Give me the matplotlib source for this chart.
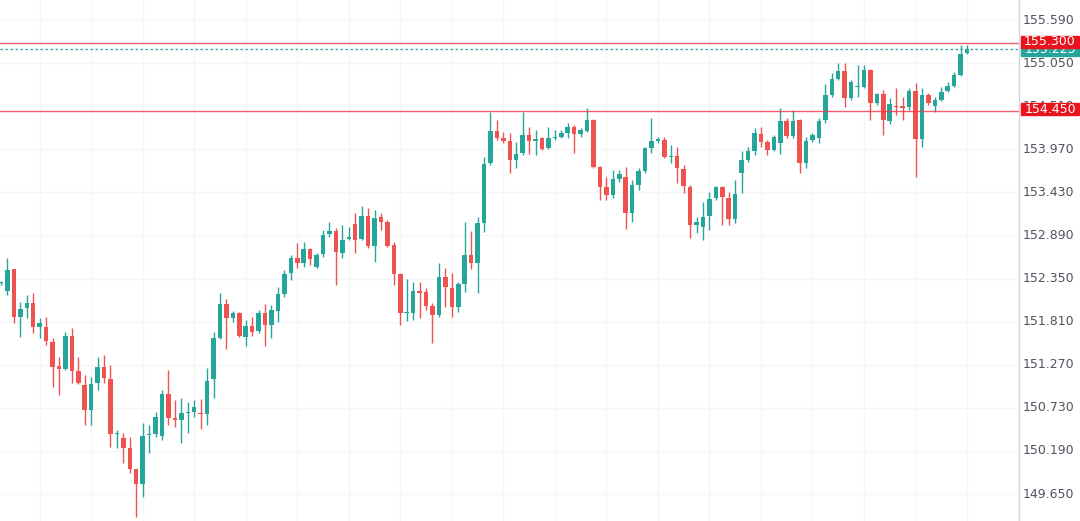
import matplotlib
matplotlib.use("Agg")
import matplotlib.pyplot as plt
from matplotlib.patches import Rectangle
from matplotlib.transforms import blended_transform_factory

opens = [152.29, 152.19, 152.47, 151.87, 151.98, 152.04, 151.74, 151.74, 151.55, 151.25,
         151.22, 151.63, 151.19, 151.02, 150.70, 151.04, 151.24, 151.09, 150.40, 150.35,
         150.23, 149.96, 149.78, 150.39, 150.40, 150.38, 150.90, 150.60, 150.58, 150.67,
         150.68, 150.67, 150.65, 151.09, 151.61, 152.03, 151.86, 151.92, 151.62, 151.76,
         151.69, 151.92, 151.77, 151.94, 152.16, 152.42, 152.61, 152.55, 152.72, 152.49,
         152.66, 152.91, 152.95, 152.67, 152.85, 153.03, 152.85, 153.13, 152.76, 153.12,
         153.06, 152.77, 152.41, 151.92, 151.92, 152.19, 152.18, 152.01, 151.89, 152.37,
         152.23, 151.99, 152.28, 152.65, 152.55, 153.05, 153.80, 154.20, 154.11, 154.07,
         153.84, 153.92, 154.15, 154.07, 154.11, 153.99, 154.11, 154.12, 154.17, 154.25,
         154.16, 154.20, 154.34, 153.75, 153.50, 153.40, 153.60, 153.62, 153.17, 153.52,
         153.70, 153.99, 154.08, 154.09, 153.87, 153.88, 153.72, 153.50, 153.02, 153.00,
         153.13, 153.36, 153.50, 153.36, 153.10, 153.67, 153.84, 153.95, 154.16, 154.06,
         153.96, 154.05, 154.32, 154.14, 154.34, 153.80, 154.09, 154.11, 154.34, 154.65,
         154.85, 154.95, 154.61, 154.75, 154.75, 154.96, 154.55, 154.66, 154.32, 154.51,
         154.51, 154.50, 154.70, 154.10, 154.65, 154.51, 154.59, 154.70, 154.76, 154.90,
         155.18]
highs = [152.32, 152.61, 152.47, 152.06, 152.14, 152.17, 151.86, 151.87, 151.61, 151.37,
         151.68, 151.73, 151.37, 151.14, 151.12, 151.37, 151.39, 151.27, 150.45, 150.41,
         150.36, 149.96, 150.54, 150.52, 150.68, 150.95, 151.20, 150.83, 150.85, 150.80,
         150.83, 150.84, 151.23, 151.68, 152.17, 152.09, 151.94, 151.93, 151.83, 151.87,
         151.96, 152.03, 152.02, 152.24, 152.46, 152.65, 152.80, 152.81, 152.73, 152.67,
         152.96, 153.06, 152.98, 153.02, 153.00, 153.17, 153.26, 153.23, 153.21, 153.17,
         153.08, 152.81, 152.42, 152.34, 152.31, 152.31, 152.23, 152.04, 152.55, 152.48,
         152.42, 152.31, 153.06, 152.95, 153.12, 153.87, 154.44, 154.34, 154.19, 154.17,
         154.06, 154.44, 154.25, 154.21, 154.12, 154.25, 154.21, 154.21, 154.30, 154.27,
         154.24, 154.49, 154.35, 153.76, 153.62, 153.71, 153.71, 153.75, 153.59, 153.74,
         154.00, 154.36, 154.12, 154.12, 154.02, 154.00, 153.77, 153.52, 153.12, 153.31,
         153.43, 153.51, 153.51, 153.43, 153.59, 153.95, 154.00, 154.24, 154.25, 154.09,
         154.15, 154.49, 154.36, 154.46, 154.35, 154.12, 154.17, 154.36, 154.79, 154.93,
         155.05, 155.05, 154.84, 155.03, 155.03, 154.98, 154.68, 154.71, 154.61, 154.74,
         154.63, 154.74, 154.80, 154.74, 154.68, 154.63, 154.75, 154.81, 154.94, 155.28,
         155.28]
lows = [152.27, 152.14, 151.79, 151.62, 151.86, 151.67, 151.61, 151.52, 150.99, 150.89,
        151.20, 151.04, 151.03, 150.52, 150.52, 150.95, 151.04, 150.24, 150.23, 150.04,
        149.91, 149.36, 149.61, 150.16, 150.36, 150.33, 150.52, 150.49, 150.29, 150.41,
        150.61, 150.46, 150.52, 150.85, 151.59, 151.47, 151.81, 151.62, 151.50, 151.63,
        151.67, 151.50, 151.61, 151.81, 152.12, 152.33, 152.48, 152.49, 152.52, 152.48,
        152.62, 152.87, 152.27, 152.61, 152.83, 152.67, 152.83, 152.73, 152.56, 152.96,
        152.75, 152.27, 151.77, 151.82, 151.83, 151.86, 151.96, 151.54, 151.87, 151.99,
        151.87, 151.93, 152.18, 152.47, 152.17, 152.93, 153.77, 154.09, 154.05, 153.67,
        153.74, 153.90, 153.91, 153.90, 153.96, 153.97, 154.09, 154.11, 154.11, 153.92,
        154.12, 154.19, 153.74, 153.33, 153.33, 153.36, 153.56, 152.97, 153.06, 153.46,
        153.67, 153.92, 154.05, 153.86, 153.80, 153.55, 153.42, 152.86, 152.92, 152.83,
        152.96, 153.33, 153.02, 153.02, 153.05, 153.42, 153.81, 153.90, 154.00, 153.90,
        153.95, 153.91, 154.11, 154.11, 153.67, 153.74, 154.06, 154.05, 154.30, 154.63,
        154.84, 154.50, 154.59, 154.63, 154.74, 154.34, 154.52, 154.15, 154.29, 154.40,
        154.34, 154.46, 153.62, 154.00, 154.52, 154.44, 154.58, 154.69, 154.75, 154.89,
        155.16]
closes = [152.30, 152.46, 151.87, 151.97, 152.04, 151.74, 151.79, 151.57, 151.24, 151.22,
          151.63, 151.19, 151.04, 150.70, 151.03, 151.24, 151.10, 150.40, 150.41, 150.23,
          149.96, 149.78, 150.38, 150.40, 150.61, 150.90, 150.60, 150.58, 150.67, 150.68,
          150.74, 150.65, 151.07, 151.61, 152.03, 151.86, 151.92, 151.63, 151.76, 151.68,
          151.92, 151.77, 151.96, 152.16, 152.41, 152.61, 152.55, 152.72, 152.60, 152.65,
          152.90, 152.95, 152.68, 152.83, 152.87, 152.83, 153.13, 152.76, 153.11, 153.06,
          152.76, 152.41, 151.92, 151.93, 152.19, 152.17, 152.01, 151.89, 152.37, 152.24,
          151.99, 152.28, 152.65, 152.55, 153.05, 153.79, 154.20, 154.11, 154.07, 153.84,
          153.91, 154.15, 154.07, 154.10, 153.97, 154.11, 154.12, 154.17, 154.25, 154.16,
          154.21, 154.34, 153.75, 153.50, 153.40, 153.60, 153.66, 153.17, 153.52, 153.70,
          153.99, 154.07, 154.10, 153.87, 153.88, 153.74, 153.51, 153.02, 153.06, 153.12,
          153.35, 153.50, 153.37, 153.10, 153.41, 153.84, 153.95, 154.17, 154.06, 153.96,
          154.12, 154.32, 154.14, 154.32, 153.80, 154.07, 154.15, 154.32, 154.65, 154.85,
          154.95, 154.61, 154.81, 154.76, 154.96, 154.55, 154.66, 154.34, 154.54, 154.50,
          154.49, 154.70, 154.10, 154.65, 154.55, 154.59, 154.69, 154.76, 154.90, 155.16,
          155.225]

tick_values = [149.65, 150.19, 150.73, 151.27, 151.81, 152.35, 152.89, 153.43, 153.97,
               154.51, 155.05, 155.59]
tick_labels = ["149.650", "150.190", "150.730", "151.270", "151.810", "152.350",
               "152.890", "153.430", "153.970", "154.510", "155.050", "155.590"]
level_lines = [155.300, 154.450]
level_labels = ["155.300", "154.450"]
last_price = 155.225
last_label = "155.225"

UP = "#26a69a"
DOWN = "#ef5350"
LEVEL = "#f23645"

W, H = 1080, 521
fig = plt.figure(figsize=(W / 100, H / 100), dpi=100)
fig.patch.set_facecolor("white")
axis_px = 1019
ax = fig.add_axes([0, 0, axis_px / W, 1])
n = len(opens)
ax.set_xlim(-0.155, 158.07)
ax.set_ylim(149.312, 155.841)

ax.set_yticks(tick_values)
ax.set_xticks(list(range(6, n, 8)))
ax.grid(True, color="#f5f6f9", lw=1.0, zorder=0)
ax.tick_params(left=False, bottom=False, labelleft=False, labelbottom=False)
for s in ["left", "top", "bottom"]:
    ax.spines[s].set_visible(False)
ax.spines["right"].set_color("#d3d6dd")
ax.spines["right"].set_linewidth(1.0)

xs = list(range(n))
colors = [UP if c >= o else DOWN for o, c in zip(opens, closes)]
ax.vlines(xs, lows, highs, colors=colors, lw=1.0, zorder=2)
bottoms = [min(o, c) for o, c in zip(opens, closes)]
heights = [max(abs(c - o), 0.014) for o, c in zip(opens, closes)]
ax.bar(xs, heights, bottom=bottoms, width=0.7, color=colors, linewidth=0, zorder=3)

for lv in level_lines:
    ax.axhline(lv, color=LEVEL, lw=1.0, alpha=0.8, zorder=4)
ax.axhline(last_price, color=UP, lw=0.9, linestyle=(0, (2, 2)), zorder=4)

trans = blended_transform_factory(fig.transFigure, ax.transData)
for v, lab in zip(tick_values, tick_labels):
    ax.text(1023 / W, v, lab, transform=trans, ha="left", va="center",
            fontsize=9, color="#50535e", clip_on=False, zorder=5)

box_h = 0.15
box_x = 1021 / W
box_w = 58 / W
ax.add_patch(Rectangle((box_x, last_price - 0.01 - box_h / 2), box_w, box_h,
                       transform=trans, color=UP, clip_on=False, zorder=6))
ax.text(box_x + box_w / 2, last_price - 0.01, last_label, transform=trans,
        ha="center", va="center", fontsize=9, color="white", clip_on=False, zorder=7)
for lv, lab in zip(level_lines, level_labels):
    ax.add_patch(Rectangle((box_x, lv + 0.02 - box_h / 2), box_w, box_h,
                           transform=trans, color="#e8131c", clip_on=False, zorder=8))
    ax.text(box_x + box_w / 2, lv + 0.02, lab, transform=trans, ha="center",
            va="center", fontsize=9, color="white", clip_on=False, zorder=9)

fig.savefig("out.png", dpi=100, facecolor="white")
